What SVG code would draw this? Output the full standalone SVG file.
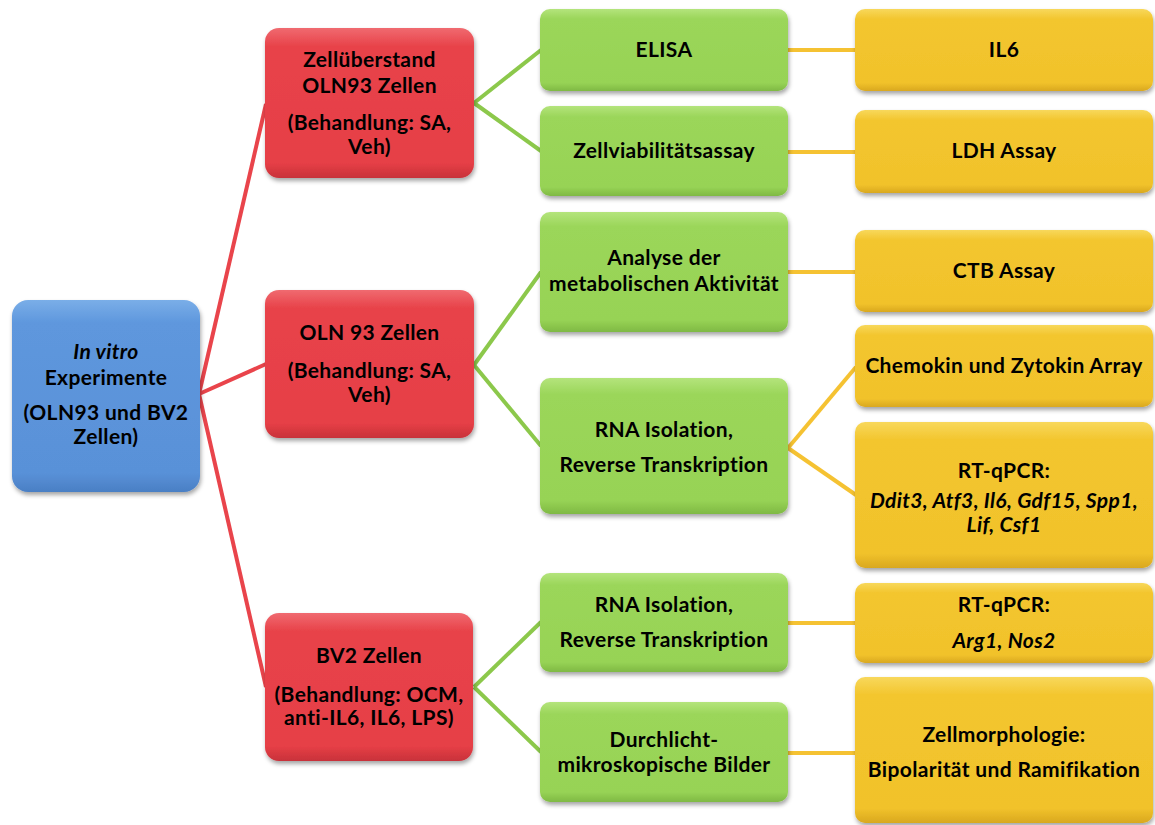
<svg xmlns="http://www.w3.org/2000/svg" width="1155" height="825" viewBox="0 0 1155 825">
<defs>
<linearGradient id="gBlue" x1="0" y1="0" x2="0" y2="1"><stop offset="0" stop-color="#7aaee8"/><stop offset="0.12" stop-color="#5e97dd"/><stop offset="0.9" stop-color="#5991d8"/><stop offset="1" stop-color="#4a7fc4"/></linearGradient>
<linearGradient id="gRed" x1="0" y1="0" x2="0" y2="1"><stop offset="0" stop-color="#f06a70"/><stop offset="0.12" stop-color="#e8434a"/><stop offset="0.9" stop-color="#e63f46"/><stop offset="1" stop-color="#c8323a"/></linearGradient>
<linearGradient id="gGreen" x1="0" y1="0" x2="0" y2="1"><stop offset="0" stop-color="#b4e47c"/><stop offset="0.12" stop-color="#9bd65a"/><stop offset="0.9" stop-color="#97d355"/><stop offset="1" stop-color="#7fb944"/></linearGradient>
<linearGradient id="gYellow" x1="0" y1="0" x2="0" y2="1"><stop offset="0" stop-color="#f8d85c"/><stop offset="0.12" stop-color="#f3c62f"/><stop offset="0.9" stop-color="#f1c22b"/><stop offset="1" stop-color="#d9a81f"/></linearGradient>
<filter id="sh" x="-10%" y="-10%" width="120%" height="130%"><feDropShadow dx="1" dy="3" stdDeviation="2" flood-color="#000" flood-opacity="0.35"/></filter>
</defs>
<style>
text{font-family:Lato,"Liberation Sans",sans-serif;font-weight:bold;font-size:21px;letter-spacing:0.35px;fill:#000;text-anchor:middle}
.it{font-style:italic}
.box{filter:url(#sh)}
.b{fill:url(#gBlue)}
.r{fill:url(#gRed)}
.g{fill:url(#gGreen)}
.y{fill:url(#gYellow)}
.cr{stroke:#e9444b;stroke-width:4;fill:none}
.cg{stroke:#8cc84b;stroke-width:4;fill:none}
.cy{stroke:#f5c232;stroke-width:4;fill:none}
</style>
<rect width="1155" height="825" fill="#fff"/>
<g id="connectors">
<line class="cr" x1="199" y1="394" x2="266" y2="104"/>
<line class="cr" x1="199" y1="394" x2="266" y2="364"/>
<line class="cr" x1="199" y1="394" x2="266" y2="687"/>
<line class="cg" x1="474" y1="103" x2="541" y2="50"/>
<line class="cg" x1="474" y1="103" x2="541" y2="151"/>
<line class="cg" x1="474" y1="365" x2="541" y2="272"/>
<line class="cg" x1="474" y1="365" x2="541" y2="446"/>
<line class="cg" x1="474" y1="687" x2="541" y2="622"/>
<line class="cg" x1="474" y1="687" x2="541" y2="752"/>
<line class="cy" x1="788" y1="50" x2="856" y2="50"/>
<line class="cy" x1="788" y1="152" x2="856" y2="152"/>
<line class="cy" x1="788" y1="272" x2="856" y2="272"/>
<line class="cy" x1="788" y1="448" x2="856" y2="367"/>
<line class="cy" x1="788" y1="448" x2="856" y2="495"/>
<line class="cy" x1="788" y1="623" x2="856" y2="623"/>
<line class="cy" x1="788" y1="753" x2="856" y2="753"/>
</g>
<g id="n-invitro"><rect class="box b" x="12" y="300" width="188" height="192" rx="16"/>
<text x="106" y="359"><tspan class="it">In vitro</tspan></text><text x="106" y="385">Experimente</text><text x="106" y="420">(OLN93 und BV2</text><text x="106" y="444">Zellen)</text></g>
<g id="n-zellueberstand"><rect class="box r" x="265" y="28" width="209" height="150" rx="14"/>
<text x="369.5" y="67">Zellüberstand</text><text x="369.5" y="93">OLN93 Zellen</text><text x="369.5" y="130">(Behandlung: SA,</text><text x="369.5" y="154">Veh)</text></g>
<g id="n-oln93"><rect class="box r" x="265" y="290" width="209" height="148" rx="14"/>
<text x="369.5" y="340">OLN 93 Zellen</text><text x="369.5" y="378">(Behandlung: SA,</text><text x="369.5" y="402">Veh)</text></g>
<g id="n-bv2"><rect class="box r" x="265" y="613" width="208" height="148" rx="14"/>
<text x="369" y="663">BV2 Zellen</text><text x="369" y="702">(Behandlung: OCM,</text><text x="369" y="725">anti-IL6, IL6, LPS)</text></g>
<g id="n-elisa"><rect class="box g" x="540" y="9" width="248" height="82" rx="10"/><text x="664" y="57">ELISA</text></g>
<g id="n-zellviab"><rect class="box g" x="540" y="106" width="248" height="90" rx="10"/><text x="664" y="158">Zellviabilitätsassay</text></g>
<g id="n-analyse"><rect class="box g" x="540" y="212" width="248" height="120" rx="10"/><text x="664" y="265">Analyse der</text><text x="664" y="291">metabolischen Aktivität</text></g>
<g id="n-rna1"><rect class="box g" x="540" y="378" width="248" height="136" rx="10"/><text x="664" y="437">RNA Isolation,</text><text x="664" y="472">Reverse Transkription</text></g>
<g id="n-rna2"><rect class="box g" x="540" y="573" width="248" height="99" rx="10"/><text x="664" y="612">RNA Isolation,</text><text x="664" y="647">Reverse Transkription</text></g>
<g id="n-durchlicht"><rect class="box g" x="540" y="702" width="248" height="100" rx="10"/><text x="664" y="747">Durchlicht-</text><text x="664" y="772">mikroskopische Bilder</text></g>
<g id="n-il6"><rect class="box y" x="855" y="9" width="298" height="82" rx="10"/><text x="1004" y="57">IL6</text></g>
<g id="n-ldh"><rect class="box y" x="855" y="110" width="298" height="83" rx="10"/><text x="1004" y="158">LDH Assay</text></g>
<g id="n-ctb"><rect class="box y" x="855" y="230" width="298" height="82" rx="10"/><text x="1004" y="278">CTB Assay</text></g>
<g id="n-chemokin"><rect class="box y" x="855" y="325" width="298" height="82" rx="10"/><text x="1004" y="373">Chemokin und Zytokin Array</text></g>
<g id="n-rtqpcr1"><rect class="box y" x="855" y="422" width="298" height="146" rx="10"/><text x="1004" y="478">RT-qPCR:</text><text x="1004" y="508" class="it">Ddit3, Atf3, Il6, Gdf15, Spp1,</text><text x="1004" y="532" class="it">Lif, Csf1</text></g>
<g id="n-rtqpcr2"><rect class="box y" x="855" y="583" width="298" height="80" rx="10"/><text x="1004" y="612">RT-qPCR:</text><text x="1004" y="648" class="it">Arg1, Nos2</text></g>
<g id="n-zellmorph"><rect class="box y" x="855" y="677" width="298" height="146" rx="10"/><text x="1004" y="742">Zellmorphologie:</text><text x="1004" y="777">Bipolarität und Ramifikation</text></g>
</svg>
